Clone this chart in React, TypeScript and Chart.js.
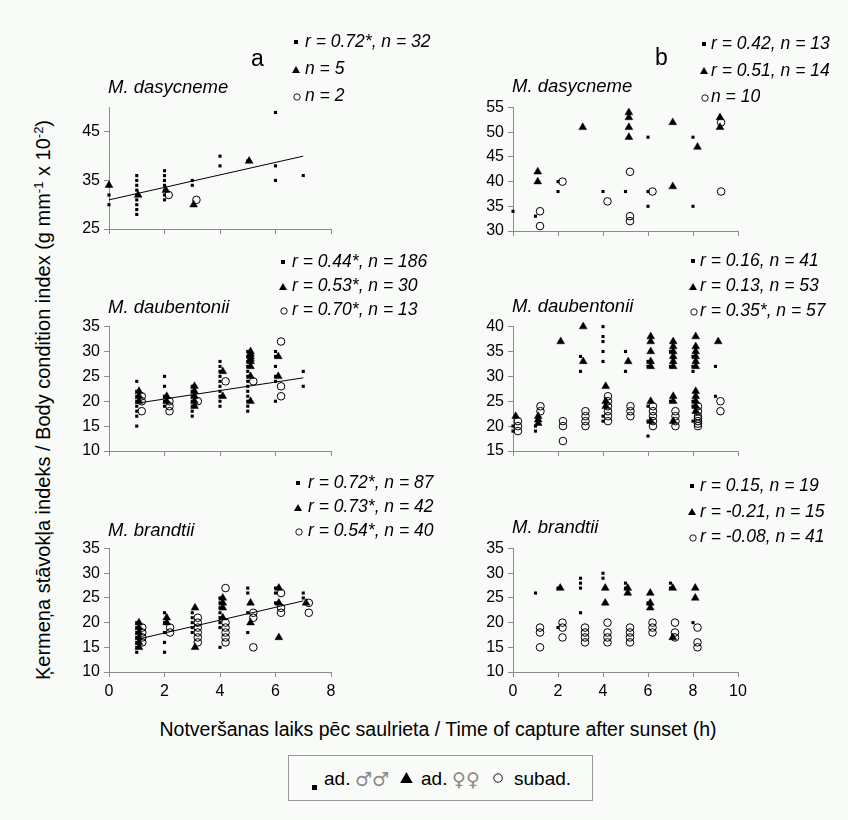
import React, { useEffect, useRef } from 'react';
import { Chart, registerables } from 'chart.js';

Chart.register(...registerables);

type Col = [number, number[]];
type Pt = [number, number];

// ---------------- DATA ----------------
const xTicksA = [0, 2, 4, 6, 8];
const xTicksB = [0, 2, 4, 6, 8, 10];

const yTicksDasA = [25, 35, 45];
const yTicksDasB = [30, 35, 40, 45, 50, 55];
const yTicksDauA = [10, 15, 20, 25, 30, 35];
const yTicksDauB = [15, 20, 25, 30, 35, 40];
const yTicksBraA = [10, 15, 20, 25, 30, 35];
const yTicksBraB = [10, 15, 20, 25, 30, 35];

// M. dasycneme (a)
const aTopMale: Col[] = [[0, [32, 30]], [1, [36, 35, 34, 33, 32, 31, 30, 29, 28]], [2, [37, 36, 35, 34, 33, 32, 31]], [3, [35, 34]], [4, [40, 38]], [5, [39]], [6, [49, 38, 35]], [7, [36]]];
const aTopFemale: Col[] = [[0, [34]], [1.05, [32]], [2.05, [33]], [3.05, [30]], [5.05, [39]]];
const aTopSub: Col[] = [[2.15, [32]], [3.15, [31]]];
const aTopTrend: Pt[] = [[0, 31], [7, 40]];

// M. dasycneme (b)
const bTopMale: Col[] = [[0, [34]], [1, [33]], [2, [40, 38]], [4, [38]], [5, [38]], [6, [49, 38, 35]], [8, [49, 35]]];
const bTopFemale: Col[] = [[1.1, [42, 40]], [3.1, [51]], [5.15, [54, 53, 51, 49]], [7.1, [52, 39]], [8.2, [47]], [9.2, [53, 51]]];
const bTopSub: Col[] = [[1.2, [34, 31]], [2.2, [40]], [4.2, [36]], [5.2, [42, 33, 32]], [6.2, [38]], [9.25, [52, 38]]];

// M. daubentonii (a)
const aMidMale: Col[] = [[1, [24, 22, 21, 20, 19, 18, 17, 15]], [2, [25, 23, 21, 20, 19]], [3, [23, 22, 21, 20, 19, 18, 17]], [4, [28, 27, 26, 25, 24, 23, 22, 21, 20, 19]], [5, [30, 29, 28, 27, 26, 25, 24, 23, 22, 21, 20, 19, 18]], [6, [30, 29, 27, 25, 24, 20]], [7, [26, 23]]];
const aMidFemale: Col[] = [[1.08, [22, 21, 20]], [2.08, [21, 20]], [3.08, [23, 22, 21, 20, 19]], [4.1, [26, 21]], [5.1, [30, 29.5, 29, 28.5, 28, 27, 25, 20]], [6.1, [29, 25]]];
const aMidSub: Col[] = [[1.18, [21, 20, 18]], [2.18, [20, 19, 18]], [3.2, [20]], [4.2, [24]], [5.2, [24]], [6.2, [32, 23, 21]]];
const aMidTrend: Pt[] = [[1, 19.6], [7, 24.7]];

// M. daubentonii (b)
const bMidMale: Col[] = [[0, [20, 19]], [1, [20, 19]], [3, [34, 31]], [4, [40, 38, 37, 35, 33, 22, 21]], [5, [35, 31]], [6, [33, 32, 24, 21, 18]], [7, [35, 32, 25]], [8, [34, 32, 31, 25, 24, 21]], [9, [32, 26]]];
const bMidFemale: Col[] = [[0.12, [22]], [1.12, [22, 21.3, 20.6]], [2.12, [37]], [3.12, [40, 33]], [4.12, [28, 25, 24]], [5.12, [33]], [6.12, [38, 37, 35, 33, 32, 25, 21]], [7.12, [37, 36, 35, 34, 33, 32, 26, 25, 21]], [8.12, [38, 36, 35, 34, 33, 32, 27, 26, 25, 24, 23]], [9.12, [37]]];
const bMidSub: Col[] = [[0.22, [21, 20, 19]], [1.22, [24, 23]], [2.22, [21, 20, 17]], [3.22, [23, 22, 21, 20]], [4.22, [26, 25, 24, 23, 22, 21]], [5.22, [24, 23, 22]], [6.22, [24, 23, 22, 21, 20]], [7.22, [23, 22, 21, 20]], [8.22, [24, 23, 22, 21.5, 21, 20.5, 20]], [9.22, [25, 23]]];

// M. brandtii (a)
const aBotMale: Col[] = [[1, [20, 19, 18, 17, 16, 15, 14]], [2, [22, 20, 18, 16, 14]], [3, [22, 21, 20, 19, 18]], [4, [25, 24, 23, 22, 21, 20, 19, 15]], [5, [27, 26, 22, 18]], [6, [27, 26, 24]], [7, [26, 25]]];
const aBotFemale: Col[] = [[1.08, [20, 19, 18, 17, 16, 15]], [2.08, [21, 20]], [3.1, [23, 15]], [4.1, [25, 24, 23, 21]], [5.1, [24, 20]], [6.12, [27, 24, 17]], [7.1, [24]]];
const aBotSub: Col[] = [[1.2, [19, 18, 17, 16]], [2.2, [19, 18]], [3.2, [21, 20, 19, 18, 17, 16]], [4.2, [27, 20, 19, 18, 17, 16]], [5.2, [22, 21, 15]], [6.2, [26, 23, 22]], [7.2, [24, 22]]];
const aBotTrend: Pt[] = [[1, 16.6], [7, 24.4]];

// M. brandtii (b)
const bBotMale: Col[] = [[1, [26]], [2, [27, 19]], [3, [29, 28, 27, 22]], [4, [30, 29]], [5, [28, 27]], [6, [24]], [7, [28, 27]], [8, [20]]];
const bBotFemale: Col[] = [[2.1, [27]], [4.1, [27, 24]], [5.1, [27, 26]], [6.1, [26, 24, 23]], [7.1, [27, 17]], [8.1, [27, 25]]];
const bBotSub: Col[] = [[1.2, [19, 18, 15]], [2.2, [20, 19, 17]], [3.2, [19, 18, 17, 16]], [4.2, [20, 18, 17, 16]], [5.2, [19, 18, 17, 16]], [6.2, [20, 19, 18]], [7.2, [20, 18, 17]], [8.2, [19, 16, 15]]];

const aTopLegend = ['r = 0.72*, n = 32', 'n = 5', 'n = 2'];
const bTopLegend = ['r = 0.42, n = 13', 'r = 0.51, n = 14', 'n = 10'];
const aMidLegend = ['r = 0.44*, n = 186', 'r = 0.53*, n = 30', 'r = 0.70*, n = 13'];
const bMidLegend = ['r = 0.16, n = 41', 'r = 0.13, n = 53', 'r = 0.35*, n = 57'];
const aBotLegend = ['r = 0.72*, n = 87', 'r = 0.73*, n = 42', 'r = 0.54*, n = 40'];
const bBotLegend = ['r = 0.15, n = 19', 'r = -0.21, n = 15', 'r = -0.08, n = 41'];

const yTitleMain = 'Ķermeņa stāvokļa indeks / Body condition index (g mm';
const xTitle = 'Notveršanas laiks pēc saulrieta / Time of capture after sunset (h)';

// ---------------- LAYOUT ----------------
const FONT = "'Liberation Sans', Arial, Helvetica, sans-serif";
const BG = '#f8fbf8';
const AXIS = '#8a8a8a';
const YW = 50, PT = 12, PR = 16, XH = 34;

Chart.defaults.font.family = FONT;

const toPoints = (cols: Col[]) => cols.flatMap(([x, ys]) => ys.map((y) => ({ x, y })));
const toLine = (pts: Pt[]) => pts.map(([x, y]) => ({ x, y }));

type PanelCfg = {
  left: number; top: number; w: number; h: number;
  xMax: number; xTicks: number[]; yMin: number; yMax: number; yTicks: number[];
  showX: boolean; male: Col[]; female: Col[]; sub: Col[]; trend?: Pt[];
  species: string; legend: string[]; legendTop: number; legendGap: number;
  markerX: number; textX: number; speciesY: number;
};

const panels: PanelCfg[] = [
  { left: 109, top: 106, w: 222, h: 123, xMax: 8, xTicks: xTicksA, yMin: 25, yMax: 50, yTicks: yTicksDasA, showX: false,
    male: aTopMale, female: aTopFemale, sub: aTopSub, trend: aTopTrend,
    species: 'M. dasycneme', legend: aTopLegend, legendTop: 41, legendGap: 27, markerX: 296, textX: 305, speciesY: 87 },
  { left: 513, top: 106, w: 225, h: 125, xMax: 10, xTicks: xTicksB, yMin: 30, yMax: 55, yTicks: yTicksDasB, showX: false,
    male: bTopMale, female: bTopFemale, sub: bTopSub,
    species: 'M. dasycneme', legend: bTopLegend, legendTop: 43, legendGap: 26.5, markerX: 704, textX: 711, speciesY: 86 },
  { left: 109, top: 325, w: 222, h: 126, xMax: 8, xTicks: xTicksA, yMin: 10, yMax: 35, yTicks: yTicksDauA, showX: false,
    male: aMidMale, female: aMidFemale, sub: aMidSub, trend: aMidTrend,
    species: 'M. daubentonii', legend: aMidLegend, legendTop: 261, legendGap: 24, markerX: 283, textX: 292, speciesY: 307 },
  { left: 513, top: 325, w: 225, h: 126, xMax: 10, xTicks: xTicksB, yMin: 15, yMax: 40, yTicks: yTicksDauB, showX: false,
    male: bMidMale, female: bMidFemale, sub: bMidSub,
    species: 'M. daubentonii', legend: bMidLegend, legendTop: 260, legendGap: 25, markerX: 693, textX: 700, speciesY: 306 },
  { left: 109, top: 547, w: 222, h: 125, xMax: 8, xTicks: xTicksA, yMin: 10, yMax: 35, yTicks: yTicksBraA, showX: true,
    male: aBotMale, female: aBotFemale, sub: aBotSub, trend: aBotTrend,
    species: 'M. brandtii', legend: aBotLegend, legendTop: 482, legendGap: 24, markerX: 298, textX: 308, speciesY: 530 },
  { left: 513, top: 547, w: 225, h: 125, xMax: 10, xTicks: xTicksB, yMin: 10, yMax: 35, yTicks: yTicksBraB, showX: true,
    male: bBotMale, female: bBotFemale, sub: bBotSub,
    species: 'M. brandtii', legend: bBotLegend, legendTop: 485, legendGap: 25.5, markerX: 692, textX: 700, speciesY: 527 },
];

function Panel({ cfg }: { cfg: PanelCfg }) {
  const ref = useRef<HTMLCanvasElement>(null);
  const cw = YW + cfg.w + PR;
  const ch = PT + cfg.h + XH;
  useEffect(() => {
    const datasets: any[] = [
      { data: toPoints(cfg.sub), pointStyle: 'circle', pointRadius: 3.8, backgroundColor: 'rgba(0,0,0,0)', borderColor: '#000', borderWidth: 1, clip: false },
      { data: toPoints(cfg.female), pointStyle: 'triangle', pointRadius: 4.5, backgroundColor: '#000', borderColor: '#000', borderWidth: 0.5, clip: false },
      { data: toPoints(cfg.male), pointStyle: 'rect', pointRadius: 2.2, backgroundColor: '#000', borderColor: '#000', borderWidth: 0, clip: false },
    ];
    if (cfg.trend) {
      datasets.push({ data: toLine(cfg.trend), showLine: true, pointRadius: 0, borderColor: '#000', borderWidth: 1, fill: false, clip: false });
    }
    const chart = new Chart(ref.current as HTMLCanvasElement, {
      type: 'scatter',
      data: { datasets },
      options: {
        animation: false,
        responsive: false,
        devicePixelRatio: 1,
        events: [],
        layout: { padding: { top: PT, right: PR, left: 0, bottom: 0 } },
        plugins: { legend: { display: false }, tooltip: { enabled: false } },
        scales: {
          x: {
            type: 'linear', min: 0, max: cfg.xMax,
            afterBuildTicks: (s: any) => { s.ticks = cfg.xTicks.map((v) => ({ value: v })); },
            afterFit: (s: any) => { s.height = XH; },
            ticks: { display: cfg.showX, color: '#000', font: { size: 16, family: FONT }, padding: 5, autoSkip: false, maxRotation: 0 },
            grid: { drawOnChartArea: false, drawTicks: true, tickLength: 5, color: AXIS, lineWidth: 1 },
            border: { display: true, color: AXIS, width: 1 },
          },
          y: {
            type: 'linear', min: cfg.yMin, max: cfg.yMax,
            afterBuildTicks: (s: any) => { s.ticks = cfg.yTicks.map((v) => ({ value: v })); },
            afterFit: (s: any) => { s.width = YW; },
            ticks: { color: '#000', font: { size: 16, family: FONT }, padding: 4, autoSkip: false },
            grid: { drawOnChartArea: false, drawTicks: true, tickLength: 5, color: AXIS, lineWidth: 1 },
            border: { display: true, color: AXIS, width: 1 },
          },
        },
      } as any,
    });
    return () => chart.destroy();
  }, []);
  return (
    <canvas
      ref={ref}
      width={cw}
      height={ch}
      style={{ position: 'absolute', left: cfg.left - YW, top: cfg.top - PT, width: cw, height: ch }}
    />
  );
}

const MSIZE = { m: [4, 4], f: [8, 7], s: [7, 7] } as const;

function Marker({ kind, size = 1 }: { kind: 'm' | 'f' | 's'; size?: number }) {
  const [w, h] = MSIZE[kind];
  const W = w * size, H = h * size;
  if (kind === 'm') {
    return (
      <svg width={W} height={H} style={{ display: 'block' }}>
        <rect x={0} y={0} width={W} height={H} fill="#000" />
      </svg>
    );
  }
  if (kind === 'f') {
    return (
      <svg width={W} height={H} style={{ display: 'block' }}>
        <polygon points={`${W / 2},0 ${W},${H} 0,${H}`} fill="#000" />
      </svg>
    );
  }
  return (
    <svg width={W + 1} height={H + 1} style={{ display: 'block' }}>
      <circle cx={(W + 1) / 2} cy={(H + 1) / 2} r={W / 2 - 0.3} fill="none" stroke="#000" strokeWidth={0.9} />
    </svg>
  );
}

const kinds: ('m' | 'f' | 's')[] = ['m', 'f', 's'];

function PanelTexts({ cfg }: { cfg: PanelCfg }) {
  return (
    <>
      <div style={{ position: 'absolute', left: cfg.left - 1, top: cfg.speciesY - 12, height: 24, lineHeight: '24px', fontSize: 18.5, fontStyle: 'italic', whiteSpace: 'nowrap' }}>
        {cfg.species}
      </div>
      {cfg.legend.map((t, i) => {
        const cy = cfg.legendTop + i * cfg.legendGap;
        const k = kinds[i];
        const [mw, mh] = MSIZE[k];
        return (
          <React.Fragment key={i}>
            <div style={{ position: 'absolute', left: cfg.markerX - mw / 2, top: cy - mh / 2 + 1 }}>
              <Marker kind={k} />
            </div>
            <div style={{ position: 'absolute', left: cfg.textX, top: cy - 12, height: 24, lineHeight: '24px', fontSize: 17.5, fontStyle: 'italic', whiteSpace: 'nowrap' }}>
              {t}
            </div>
          </React.Fragment>
        );
      })}
    </>
  );
}

export default function App() {
  return (
    <div style={{ position: 'absolute', left: 0, top: 0, width: 848, height: 820, background: BG, fontFamily: FONT, color: '#000', overflow: 'hidden' }}>
      {panels.map((p, i) => (
        <Panel key={'c' + i} cfg={p} />
      ))}
      {panels.map((p, i) => (
        <PanelTexts key={'t' + i} cfg={p} />
      ))}
      <div style={{ position: 'absolute', left: 251, top: 44, fontSize: 23, lineHeight: '28px' }}>a</div>
      <div style={{ position: 'absolute', left: 655, top: 43, fontSize: 23, lineHeight: '28px' }}>b</div>

      <div
        style={{
          position: 'absolute', left: 43 - 340, top: 400 - 13, width: 680, height: 26, lineHeight: '26px',
          textAlign: 'center', fontSize: 20, whiteSpace: 'nowrap', transform: 'rotate(-90deg)', transformOrigin: '50% 50%',
        }}
      >
        {yTitleMain}
        <sup style={{ fontSize: 13, verticalAlign: 'top', lineHeight: '18px' }}>-1</sup>
        {' x 10'}
        <sup style={{ fontSize: 13, verticalAlign: 'top', lineHeight: '18px' }}>-2</sup>
        {')'}
      </div>

      <div style={{ position: 'absolute', left: 0, width: 876, top: 716, height: 26, lineHeight: '26px', textAlign: 'center', fontSize: 19.5, whiteSpace: 'nowrap' }}>
        {xTitle}
      </div>

      <div style={{ position: 'absolute', left: 288, top: 755, width: 305, height: 46, border: '1px solid #9a9a9a', boxSizing: 'border-box' }} />
      <div style={{ position: 'absolute', left: 312, top: 785 }}><Marker kind="m" size={1.3} /></div>
      <div style={{ position: 'absolute', left: 324, top: 766, fontSize: 19, lineHeight: '26px' }}>ad.</div>
      <div style={{ position: 'absolute', left: 355, top: 766, fontSize: 19, lineHeight: '26px', color: '#8a8a8a', fontFamily: "'DejaVu Sans', sans-serif" }}>♂♂</div>
      <div style={{ position: 'absolute', left: 400, top: 772 }}><Marker kind="f" size={1.6} /></div>
      <div style={{ position: 'absolute', left: 421, top: 766, fontSize: 19, lineHeight: '26px' }}>ad.</div>
      <div style={{ position: 'absolute', left: 452, top: 766, fontSize: 19, lineHeight: '26px', color: '#8a8a8a', fontFamily: "'DejaVu Sans', sans-serif" }}>♀♀</div>
      <div style={{ position: 'absolute', left: 493, top: 773 }}><Marker kind="s" size={1.3} /></div>
      <div style={{ position: 'absolute', left: 514, top: 766, fontSize: 19, lineHeight: '26px' }}>subad.</div>
    </div>
  );
}
